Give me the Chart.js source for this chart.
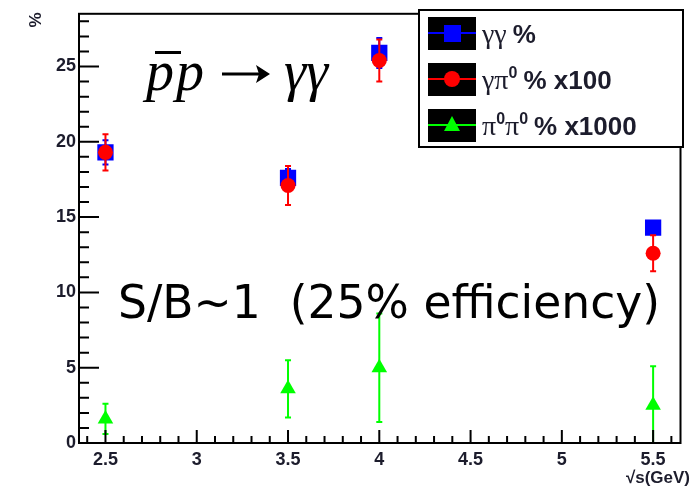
<!DOCTYPE html>
<html>
<head>
<meta charset="utf-8">
<script src="https://cdn.jsdelivr.net/npm/chart.js@4.4.1/dist/chart.umd.min.js"></script>
<style>
  body { margin: 0; background: #fff; }
</style>
</head>
<body>
<canvas id="chart" width="692" height="491"></canvas>
<script>
// ===== DATA =====
const energies = [2.5, 3.5, 4.0, 5.5];
const ggValues = [19.3, 17.6, 25.9, 14.3];
const ggErrors = [0.8, 0.6, 1.0, 0.3];
const gpValues = [19.3, 17.1, 25.4, 12.6];
const gpErrors = [1.2, 1.3, 1.4, 1.2];
const ppValues = [1.6, 3.6, 5.0, 2.5];
const ppErrors = [1.0, 1.9, 3.6, 2.6];
const xTicks = [2.5, 3, 3.5, 4, 4.5, 5, 5.5];
const yTicks = [0, 5, 10, 15, 20, 25];

const labelColor = "#1c1c2c";
const sans = '"Liberation Sans", Arial, sans-serif';
const serif = '"Liberation Serif", "Times New Roman", serif';

function points(vals) {
  return energies.map((e, i) => ({ x: e, y: vals[i] }));
}

// ===== ERROR BARS =====
const errorBars = {
  id: "errorBars",
  beforeDatasetDraw(chart, args) {
    let ds = chart.data.datasets[args.index];
    if (!ds.errors) return;
    let xs = chart.scales.x, ys = chart.scales.y, ctx = chart.ctx;
    ctx.save();
    ctx.strokeStyle = ds.backgroundColor;
    ctx.lineWidth = 2;
    ds.data.forEach((p, i) => {
      let px = xs.getPixelForValue(p.x);
      let lo = Math.max(p.y - ds.errors[i], ys.min);
      let top = ys.getPixelForValue(p.y + ds.errors[i]);
      let bot = ys.getPixelForValue(lo);
      ctx.beginPath();
      ctx.moveTo(px, top); ctx.lineTo(px, bot);
      ctx.moveTo(px - 3, top); ctx.lineTo(px + 3, top);
      if (lo > ys.min) { ctx.moveTo(px - 3, bot); ctx.lineTo(px + 3, bot); }
      ctx.stroke();
    });
    ctx.restore();
  }
};

// ===== FRAME + ROOT STYLE TICKS =====
const frame = {
  id: "frame",
  afterDraw(chart) {
    let { ctx, chartArea: a } = chart;
    let xs = chart.scales.x, ys = chart.scales.y;
    ctx.save();
    ctx.strokeStyle = "#000";
    ctx.lineWidth = 2;
    ctx.strokeRect(a.left, a.top, a.right - a.left, a.bottom - a.top);
    ctx.beginPath();
    for (let k = 0; k <= 28; k++) {
      let py = ys.getPixelForValue(k);
      let len = k % 5 === 0 ? 20 : 10;
      ctx.moveTo(a.left, py); ctx.lineTo(a.left + len, py);
    }
    for (let k = 24; k <= 56; k++) {
      let px = xs.getPixelForValue(k / 10);
      let len = k % 5 === 0 ? 13 : 7;
      ctx.moveTo(px, a.bottom); ctx.lineTo(px, a.bottom - len);
    }
    ctx.stroke();

    // axis titles
    ctx.fillStyle = labelColor;
    ctx.font = "bold 17px " + sans;
    ctx.textAlign = "right";
    ctx.textBaseline = "alphabetic";
    ctx.fillText("\u221As(GeV)", 690, 483);
    ctx.translate(36, 20);
    ctx.rotate(-Math.PI / 2);
    ctx.textAlign = "center";
    ctx.textBaseline = "middle";
    ctx.fillText("%", 0, 0);
    ctx.restore();
  }
};

// ===== TEXT + LEGEND =====
function pieces(ctx, x, y, parts) {
  parts.forEach(p => {
    ctx.font = p.font;
    ctx.fillText(p.t, x, y + (p.dy || 0));
    x += ctx.measureText(p.t).width + (p.gap || 0);
  });
}

const notes = {
  id: "notes",
  afterDraw(chart) {
    let ctx = chart.ctx;
    ctx.save();
    ctx.fillStyle = "#000";
    ctx.strokeStyle = "#000";
    ctx.textBaseline = "alphabetic";
    ctx.textAlign = "left";

    // reaction
    ctx.font = "italic 56px " + serif;
    ctx.fillText("p", 146, 90);
    let pw = ctx.measureText("p").width;
    ctx.fillText("p", 146 + pw + 2, 90);
    ctx.fillRect(155, 51, 26, 3);
    // arrow
    ctx.lineWidth = 3;
    ctx.beginPath();
    ctx.moveTo(222, 74); ctx.lineTo(266, 74);
    ctx.stroke();
    ctx.beginPath();
    ctx.moveTo(270, 74); ctx.lineTo(256, 65); ctx.lineTo(259, 74); ctx.lineTo(256, 83);
    ctx.closePath();
    ctx.fill();
    ctx.font = "italic 56px " + serif;
    ctx.fillText("\u03B3\u03B3", 284, 90);

    // S/B note
    let s = "S/B~1  (25% efficiency)";
    ctx.font = "44px " + '"DejaVu Sans", sans-serif';
    let size = 44 * 542 / ctx.measureText(s).width;
    ctx.font = size.toFixed(1) + 'px "DejaVu Sans", sans-serif';
    ctx.fillText(s, 118, 318);

    // legend box
    ctx.fillStyle = "#fff";
    ctx.fillRect(419, 10, 264, 137);
    ctx.lineWidth = 2;
    ctx.strokeRect(419, 10, 264, 137);

    let sw = [
      { y: 33, c: "#0000ff", m: "rect" },
      { y: 79, c: "#ff0000", m: "circle" },
      { y: 125, c: "#00ff00", m: "triangle" }
    ];
    sw.forEach(e => {
      ctx.fillStyle = "#000";
      ctx.fillRect(428, e.y - 16, 48, 33);
      ctx.strokeStyle = e.c;
      ctx.lineWidth = 2;
      ctx.beginPath();
      ctx.moveTo(428, e.y); ctx.lineTo(476, e.y);
      ctx.stroke();
      ctx.fillStyle = e.c;
      ctx.beginPath();
      if (e.m === "rect") ctx.rect(444, e.y - 8, 17, 17);
      else if (e.m === "circle") ctx.arc(452, e.y, 8, 0, Math.PI * 2);
      else { ctx.moveTo(452, e.y - 9); ctx.lineTo(460, e.y + 6); ctx.lineTo(444, e.y + 6); ctx.closePath(); }
      ctx.fill();
    });

    ctx.fillStyle = labelColor;
    let g = "28px " + serif, b = "bold 26px " + sans, sup = "bold 16px " + sans;
    pieces(ctx, 482, 43, [
      { t: "\u03B3\u03B3", font: g, gap: 6 },
      { t: "%", font: b }
    ]);
    pieces(ctx, 482, 89, [
      { t: "\u03B3\u03C0", font: g },
      { t: "0", font: sup, dy: -11, gap: 6 },
      { t: "% x100", font: b }
    ]);
    pieces(ctx, 482, 135, [
      { t: "\u03C0", font: g },
      { t: "0", font: sup, dy: -11 },
      { t: "\u03C0", font: g },
      { t: "0", font: sup, dy: -11, gap: 6 },
      { t: "% x1000", font: b }
    ]);
    ctx.restore();
  }
};

// ===== CHART =====
new Chart(document.getElementById("chart"), {
  type: "scatter",
  data: {
    datasets: [
      { label: "gg", order: 3, data: points(ggValues), errors: ggErrors, backgroundColor: "#0000ff",
        borderColor: "#0000ff", pointStyle: "rect", pointRadius: 11.5, borderWidth: 0 },
      { label: "gpi", order: 2, data: points(gpValues), errors: gpErrors, backgroundColor: "#ff0000",
        borderColor: "#ff0000", pointStyle: "circle", pointRadius: 7.5, borderWidth: 0 },
      { label: "pipi", order: 1, data: points(ppValues), errors: ppErrors, backgroundColor: "#00ff00",
        borderColor: "#00ff00", pointStyle: "triangle", pointRadius: 9, borderWidth: 0 }
    ]
  },
  options: {
    responsive: false,
    animation: false,
    events: [],
    layout: { padding: { top: 10, right: 9, left: 0, bottom: 0 } },
    plugins: { legend: { display: false }, tooltip: { enabled: false } },
    scales: {
      x: {
        type: "linear", min: 2.355, max: 5.65,
        afterFit: s => { s.height = 48; },
        afterBuildTicks: s => { s.ticks = xTicks.map(v => ({ value: v })); },
        grid: { display: false, drawTicks: false },
        border: { display: false },
        ticks: { color: labelColor, padding: 6, font: { family: sans, size: 18, weight: "bold" },
                 callback: v => String(v), maxRotation: 0, autoSkip: false }
      },
      y: {
        type: "linear", min: 0, max: 28.5,
        afterFit: s => { s.width = 79; },
        afterBuildTicks: s => { s.ticks = yTicks.map(v => ({ value: v })); },
        grid: { display: false, drawTicks: false },
        border: { display: false },
        ticks: { color: labelColor, padding: 3, font: { family: sans, size: 18, weight: "bold" },
                 callback: v => String(v) }
      }
    }
  },
  plugins: [errorBars, frame, notes]
});
</script>
</body>
</html>
